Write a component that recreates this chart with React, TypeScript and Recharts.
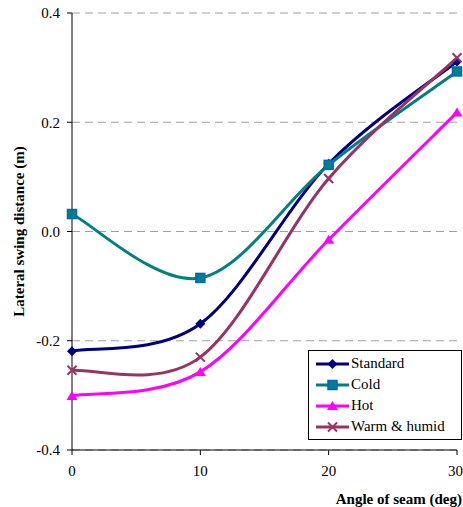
import React from "react"
import { CartesianGrid, Label, Legend, Line, LineChart, XAxis, YAxis } from "recharts"

const angles = [0, 10, 20, 30]
const standard = [-0.219, -0.169, 0.124, 0.311]
const cold = [0.032, -0.085, 0.122, 0.293]
const hot = [-0.301, -0.257, -0.015, 0.218]
const warmHumid = [-0.254, -0.23, 0.097, 0.318]

const xTicks = [0, 10, 20, 30]
const yTicks = [-0.4, -0.2, 0, 0.2, 0.4]

const data = angles.map((a, i) => ({
  angle: a,
  standard: standard[i],
  cold: cold[i],
  hot: hot[i],
  warmHumid: warmHumid[i],
}))

type MarkerKind = "diamond" | "square" | "triangle" | "cross"

const series: { key: string; name: string; color: string; marker: MarkerKind }[] = [
  { key: "standard", name: "Standard", color: "#000080", marker: "diamond" },
  { key: "cold", name: "Cold", color: "#008080", marker: "square" },
  { key: "hot", name: "Hot", color: "#FF00FF", marker: "triangle" },
  { key: "warmHumid", name: "Warm & humid", color: "#993366", marker: "cross" },
]

const FONT = '"Liberation Serif", "Times New Roman", serif'

// Excel-style smoothed line (cardinal spline, tension 0)
function excelCurve(context: any) {
  let pts: number[][] = []
  return {
    areaStart() {},
    areaEnd() {},
    lineStart() {
      pts = []
    },
    point(x: number, y: number) {
      pts.push([+x, +y])
    },
    lineEnd() {
      const n = pts.length
      if (!n) return
      context.moveTo(pts[0][0], pts[0][1])
      for (let i = 0; i < n - 1; i++) {
        const p0 = pts[Math.max(i - 1, 0)]
        const p1 = pts[i]
        const p2 = pts[i + 1]
        const p3 = pts[Math.min(i + 2, n - 1)]
        context.bezierCurveTo(
          p1[0] + (p2[0] - p0[0]) / 6,
          p1[1] + (p2[1] - p0[1]) / 6,
          p2[0] - (p3[0] - p1[0]) / 6,
          p2[1] - (p3[1] - p1[1]) / 6,
          p2[0],
          p2[1]
        )
      }
    },
  }
}

function Marker({ kind, cx, cy, color }: { kind: MarkerKind; cx: number; cy: number; color: string }) {
  if (kind === "diamond") {
    const r = 5
    return <polygon points={`${cx},${cy - r} ${cx + r},${cy} ${cx},${cy + r} ${cx - r},${cy}`} fill={color} />
  }
  if (kind === "square") {
    return <rect x={cx - 4.5} y={cy - 4.5} width={9} height={9} fill={color} stroke="#0066CC" strokeWidth={1.5} />
  }
  if (kind === "triangle") {
    return <polygon points={`${cx},${cy - 5} ${cx + 5.5},${cy + 4} ${cx - 5.5},${cy + 4}`} fill={color} />
  }
  const r = 4.5
  return (
    <g stroke={color} strokeWidth={2}>
      <line x1={cx - r} y1={cy - r} x2={cx + r} y2={cy + r} />
      <line x1={cx - r} y1={cy + r} x2={cx + r} y2={cy - r} />
    </g>
  )
}

function renderLegend() {
  return (
    <div
      style={{
        border: "1px solid #000",
        background: "#fff",
        padding: "2px 0 2px 6px",
        fontFamily: FONT,
        fontSize: 15,
        color: "#000",
        boxSizing: "border-box",
        width: 154,
      }}
    >
      {series.map((s) => (
        <div key={s.key} style={{ display: "flex", alignItems: "center", height: 21 }}>
          <svg width={35} height={14} style={{ marginRight: 1 }}>
            <line x1={1} y1={7} x2={34} y2={7} stroke={s.color} strokeWidth={3} />
            <Marker kind={s.marker} cx={17.5} cy={7} color={s.color} />
          </svg>
          <span>{s.name}</span>
        </div>
      ))}
    </div>
  )
}

export default function App() {
  return (
    <div style={{ position: "absolute", left: 0, top: 0, width: 463, height: 507, background: "#fff" }}>
      <LineChart width={463} height={507} data={data} margin={{ top: 13, right: 6, bottom: 0, left: 0 }}>
        <CartesianGrid vertical={false} stroke="#A0A0A0" strokeDasharray="8 5" />
        <XAxis
          dataKey="angle"
          type="number"
          domain={[0, 30]}
          ticks={xTicks}
          height={57}
          stroke="#000"
          tickSize={5}
          tickMargin={10}
          tick={{ fill: "#000", fontFamily: FONT, fontSize: 15 }}
        >
          <Label
            content={(props: any) => {
              const vb = props.viewBox || { x: 72, y: 450, width: 385, height: 57 }
              return (
                <text
                  x={vb.x + vb.width + 5}
                  y={vb.y + 54}
                  textAnchor="end"
                  fontFamily={FONT}
                  fontSize={15}
                  fontWeight="bold"
                  fill="#000"
                >
                  Angle of seam (deg)
                </text>
              )
            }}
          />
        </XAxis>
        <YAxis
          type="number"
          domain={[-0.4, 0.4]}
          ticks={yTicks}
          width={72}
          stroke="#000"
          tickSize={5}
          tickMargin={7}
          tickFormatter={(v: number) => v.toFixed(1)}
          tick={{ fill: "#000", fontFamily: FONT, fontSize: 15 }}
        >
          <Label
            content={(props: any) => {
              const vb = props.viewBox || { x: 0, y: 13, width: 72, height: 437 }
              const cx = vb.x + 24
              const cy = vb.y + vb.height / 2
              return (
                <text
                  x={cx}
                  y={cy}
                  transform={`rotate(-90 ${cx} ${cy})`}
                  textAnchor="middle"
                  fontFamily={FONT}
                  fontSize={15}
                  fontWeight="bold"
                  fill="#000"
                >
                  Lateral swing distance (m)
                </text>
              )
            }}
          />
        </YAxis>
        {series.map((s) => (
          <Line
            key={s.key}
            dataKey={s.key}
            name={s.name}
            type={excelCurve as any}
            stroke={s.color}
            strokeWidth={3}
            isAnimationActive={false}
            activeDot={false}
            dot={(p: any) => <Marker key={`${s.key}-${p.index}`} kind={s.marker} cx={p.cx} cy={p.cy} color={s.color} />}
          />
        ))}
        <Legend
          layout="vertical"
          align="center"
          verticalAlign="middle"
          content={renderLegend}
          wrapperStyle={{ left: 308, top: 350, width: 154 }}
        />
      </LineChart>
    </div>
  )
}
